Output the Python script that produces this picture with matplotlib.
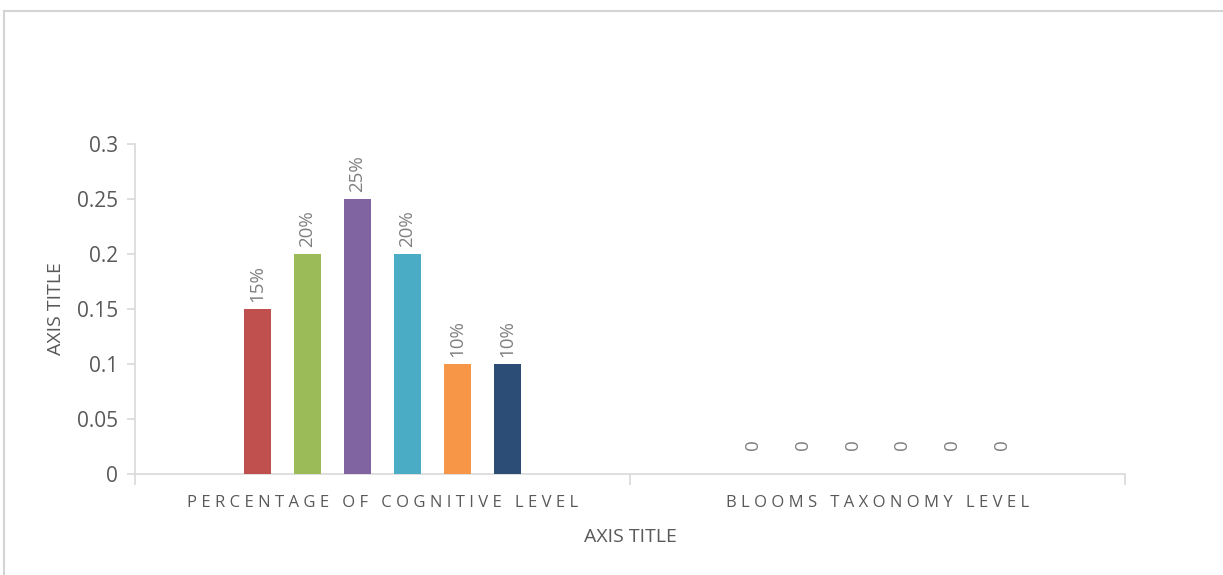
import matplotlib
matplotlib.use("Agg")
import matplotlib.pyplot as plt
from matplotlib.lines import Line2D
import numpy as np

plt.rcParams['font.family'] = ['Open Sans', 'DejaVu Sans']

categories = ["PERCENTAGE OF COGNITIVE LEVEL", "BLOOMS TAXONOMY LEVEL"]
series_names = ["Remember", "Understand", "Apply", "Analyze", "Evaluate", "Create"]
series_values = [
    [0.15, 0.0],
    [0.20, 0.0],
    [0.25, 0.0],
    [0.20, 0.0],
    [0.10, 0.0],
    [0.10, 0.0],
]
series_colors = ["#C0504D", "#9BBB59", "#8064A2", "#4BACC6", "#F79646", "#2C4D75"]
y_ticks = [0, 0.05, 0.1, 0.15, 0.2, 0.25, 0.3]
y_tick_labels = ["0", "0.05", "0.1", "0.15", "0.2", "0.25", "0.3"]

fig = plt.figure(figsize=(12.23, 5.75), dpi=100)
ax = fig.add_axes([135 / 1223, 101 / 575, 990 / 1223, 330 / 575])

# outer chart frame (top and left edges visible)
fig.add_artist(Line2D([4 / 1223, 1.0], [1 - 11 / 575, 1 - 11 / 575],
                      transform=fig.transFigure, color="#D4D4D4", lw=1.5))
fig.add_artist(Line2D([4 / 1223, 4 / 1223], [0, 1 - 11 / 575],
                      transform=fig.transFigure, color="#D4D4D4", lw=1.5))

x = np.arange(len(categories))
n = len(series_values)
step = 0.101
width = 0.053
for i, (vals, col) in enumerate(zip(series_values, series_colors)):
    pos = x + (i - (n - 1) / 2) * step
    ax.bar(pos, vals, width=width, color=col, zorder=3)
    for px, v in zip(pos, vals):
        txt = f"{v:.0%}" if v else "0"
        off = 5 if v else 17
        ax.annotate(txt, (px, v), xytext=(0, off), textcoords="offset points",
                    rotation=90, ha="center", va="bottom",
                    fontsize=13.5, color="#7F7F7F")

ax.set_xlim(-0.5, 1.5)
ax.set_ylim(0, 0.3)
ax.set_yticks(y_ticks)
ax.set_yticklabels(y_tick_labels, fontsize=15, color="#595959")


def spaced(s):
    return "   ".join(" ".join(w) for w in s.split(" "))


ax.set_xticks(x)
ax.set_xticklabels([spaced(c) for c in categories], fontsize=12, color="#595959")
ax.set_xticks([-0.5, 0.5, 1.5], minor=True)
ax.tick_params(axis="x", which="major", length=0, pad=15)
ax.tick_params(axis="x", which="minor", length=8, width=1.2, color="#D9D9D9")
ax.tick_params(axis="y", length=6, width=1.2, color="#D9D9D9", pad=6)

for side in ["top", "right"]:
    ax.spines[side].set_visible(False)
for side in ["left", "bottom"]:
    ax.spines[side].set_color("#D9D9D9")
    ax.spines[side].set_linewidth(1.2)

ax.set_xlabel("AXIS TITLE", fontsize=14, color="#595959", labelpad=12)
ax.set_ylabel("AXIS TITLE", fontsize=14, color="#595959", labelpad=9)

fig.savefig("out.png", dpi=100)
